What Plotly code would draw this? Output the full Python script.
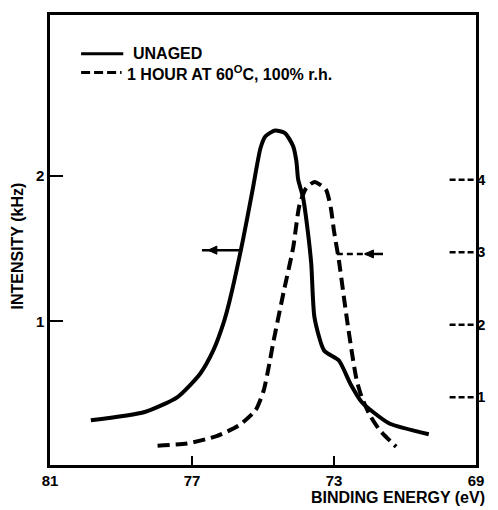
import plotly.graph_objects as go

# ---- data ----
unaged_ev = [79.85, 78.33, 77.41, 76.77, 76.40, 76.12, 75.94, 75.57, 75.30, 75.07, 74.93,
             74.66, 74.38, 74.15, 74.06, 74.01, 73.87, 73.74, 73.64, 73.55, 73.28, 72.86,
             72.54, 72.22, 71.90, 71.44, 70.33]
unaged_khz = [0.318, 0.375, 0.478, 0.639, 0.799, 0.982, 1.142, 1.554, 1.897, 2.194, 2.275,
              2.314, 2.297, 2.206, 2.103, 1.977, 1.851, 1.624, 1.394, 1.027, 0.799, 0.730,
              0.570, 0.444, 0.375, 0.296, 0.222]

aged_ev = [77.97, 77.14, 76.31, 75.67, 75.21, 74.98, 74.84, 74.70, 74.41, 74.15, 73.97,
           73.78, 73.55, 73.23, 73.09, 73.00, 72.86, 72.72, 72.63, 72.49, 72.36, 72.22,
           71.99, 71.71, 71.25]
aged_int = [0.330, 0.362, 0.463, 0.614, 0.820, 1.094, 1.414, 1.781, 2.47, 3.062, 3.658,
            3.886, 3.968, 3.864, 3.611, 3.291, 2.879, 2.375, 2.055, 1.598, 1.232, 1.002,
            0.751, 0.545, 0.316]

x_ticks = [81, 77, 73, 69]
left_ticks = [1, 2]
right_ticks = [1, 2, 3, 4]

legend_labels = ["UNAGED", "1 HOUR AT 60<sup>O</sup>C, 100% r.h."]
x_title = "BINDING ENERGY (eV)"
y_title = "INTENSITY (kHz)"

FONT = "Liberation Sans, Arial, sans-serif"

fig = go.Figure()
fig.add_trace(go.Scatter(x=unaged_ev, y=unaged_khz, mode="lines", name="UNAGED",
                         line=dict(color="black", width=4, shape="spline", smoothing=0.6),
                         showlegend=False))
fig.add_trace(go.Scatter(x=aged_ev, y=aged_int, mode="lines", name="1 HOUR AT 60°C, 100% r.h.",
                         yaxis="y2",
                         line=dict(color="black", width=4, dash="12px,6px", shape="spline",
                                   smoothing=0.6),
                         showlegend=False))

shapes = []
# dashed right-axis ticks
for t in right_ticks:
    shapes.append(dict(type="line", xref="paper", yref="y2", x0=0.938, x1=1.0, y0=t, y1=t,
                       line=dict(color="black", width=2.5, dash="6px,3px")))
# legend line samples
shapes.append(dict(type="line", xref="paper", yref="paper", x0=0.073, x1=0.172, y0=0.914, y1=0.914,
                   line=dict(color="black", width=3)))
shapes.append(dict(type="line", xref="paper", yref="paper", x0=0.073, x1=0.168, y0=0.872, y1=0.872,
                   line=dict(color="black", width=3, dash="9px,4px")))
# arrow shafts
shapes.append(dict(type="line", xref="x", yref="y", x0=76.72, x1=75.59, y0=1.49, y1=1.49,
                   line=dict(color="black", width=2.5)))
shapes.append(dict(type="line", xref="x", yref="y2", x0=72.92, x1=72.12, y0=2.975, y1=2.975,
                   line=dict(color="black", width=2.5, dash="6px,4px")))
shapes.append(dict(type="line", xref="x", yref="y2", x0=72.12, x1=71.62, y0=2.975, y1=2.975,
                   line=dict(color="black", width=2.5)))
# arrowheads (small left-pointing triangles)
shapes.append(dict(type="path", xref="x", yref="y", fillcolor="black", line=dict(color="black", width=1),
                   path="M 76.55 1.49 L 76.30 1.518 L 76.30 1.462 Z"))
shapes.append(dict(type="path", xref="x", yref="y2", fillcolor="black", line=dict(color="black", width=1),
                   path="M 72.14 2.975 L 71.89 3.03 L 71.89 2.92 Z"))

annotations = [
    dict(x=0.191, y=0.914, xref="paper", yref="paper", text=legend_labels[0], showarrow=False,
         xanchor="left", yanchor="middle", font=dict(family=FONT, size=16, color="black", weight="bold")),
    dict(x=0.175, y=0.872, xref="paper", yref="paper", text=legend_labels[1], showarrow=False,
         xanchor="left", yanchor="middle", font=dict(family=FONT, size=16, color="black", weight="bold")),
    dict(x=1.025, y=-0.073, xref="paper", yref="paper", text=x_title, showarrow=False,
         xanchor="right", yanchor="middle", font=dict(family=FONT, size=16, color="black", weight="bold")),
    dict(x=-0.0759, y=0.487, xref="paper", yref="paper", text=y_title, showarrow=False,
         textangle=-90, xanchor="center", yanchor="middle",
         font=dict(family=FONT, size=16, color="black", weight="bold")),
]

fig.update_layout(
    width=498, height=510,
    margin=dict(l=50, r=13, t=13, b=45),
    paper_bgcolor="white", plot_bgcolor="white",
    font=dict(family=FONT, color="black"),
    shapes=shapes, annotations=annotations,
    showlegend=False,
    xaxis=dict(range=[81, 69], tickvals=x_ticks, ticktext=[str(v) for v in x_ticks],
               ticks="inside", ticklen=9, tickwidth=2, tickcolor="black",
               showline=True, linewidth=2.5, linecolor="black", mirror=True,
               showgrid=False, zeroline=False,
               tickfont=dict(family=FONT, size=15, color="black", weight="bold")),
    yaxis=dict(range=[0.01, 3.11], tickvals=left_ticks, ticktext=[str(v) for v in left_ticks],
               ticks="inside", ticklen=13, tickwidth=2, tickcolor="black",
               showline=True, linewidth=2.5, linecolor="black", mirror=True,
               showgrid=False, zeroline=False,
               tickfont=dict(family=FONT, size=15, color="black", weight="bold")),
    yaxis2=dict(range=[0.065, 6.27], overlaying="y", side="right",
                tickvals=right_ticks, ticktext=[str(v) for v in right_ticks],
                ticks="", showline=False, showgrid=False, zeroline=False,
                tickfont=dict(family=FONT, size=15, color="black", weight="bold")),
)

fig.write_html("out.html")
